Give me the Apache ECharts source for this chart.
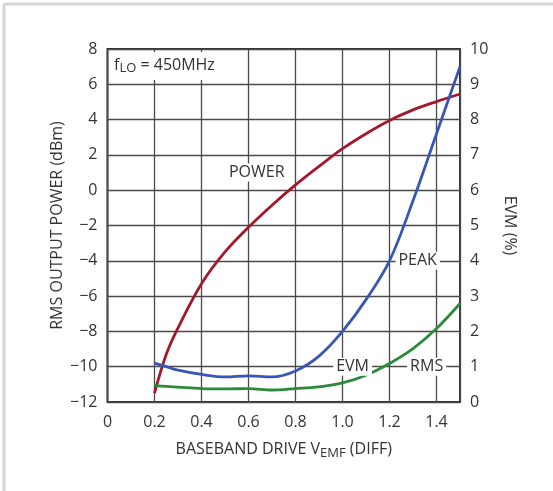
<!DOCTYPE html>
<html><head><meta charset="utf-8">
<script src="https://cdn.jsdelivr.net/npm/echarts@6/dist/echarts.min.js"></script>
<style>html,body{margin:0;padding:0;background:#fff}#c{width:553px;height:491px}</style>
</head><body><div id="c"></div>
<script>
// Data
const driveV = [0.2, 0.25, 0.3, 0.4, 0.5, 0.6, 0.7, 0.8, 0.9, 1.0, 1.1, 1.2, 1.3, 1.4, 1.5];
const powerDbm = [-11.5, -9.3, -7.8, -5.3, -3.5, -2.1, -0.85, 0.3, 1.35, 2.35, 3.2, 3.95, 4.55, 5.02, 5.45];
const peakEvm = [1.1, 1.0, 0.9, 0.78, 0.71, 0.74, 0.71, 0.88, 1.3, 2.0, 2.9, 4.0, 5.7, 7.6, 9.5];
const rmsEvm = [0.47, 0.44, 0.42, 0.38, 0.37, 0.38, 0.34, 0.38, 0.43, 0.54, 0.76, 1.09, 1.51, 2.08, 2.79];
const xTicks = [0, 0.2, 0.4, 0.6, 0.8, 1.0, 1.2, 1.4];
const leftTicks = [-12, -10, -8, -6, -4, -2, 0, 2, 4, 6, 8];
const rightTicks = [0, 1, 2, 3, 4, 5, 6, 7, 8, 9, 10];

const FONT = 'Open Sans';
const FS = 16;
const SUB = 13;
const TXT = '#333';
const pair = (xs, ys) => xs.map((x, i) => [x, ys[i]]);
const minus = v => String(v).replace('-', '\u2212');

const labelStyle = {
  show: true, position: 'inside', color: TXT, fontFamily: FONT, fontSize: FS,
  backgroundColor: '#fff', padding: [1, 3]
};
const mk = (name, coord) => ({ name, coord, symbolSize: 0, label: Object.assign({}, labelStyle, { formatter: name }) });

const chart = echarts.init(document.getElementById('c'), null, { renderer: 'canvas' });
chart.setOption({
  animation: false,
  backgroundColor: '#fff',
  grid: { left: 107.5, right: 93, top: 49, bottom: 89, show: true, borderColor: '#333', borderWidth: 2, backgroundColor: 'transparent' },
  graphic: [
    { type: 'line', shape: { x1: 4, y1: 4, x2: 553, y2: 4 }, style: { stroke: '#d6d6d6', lineWidth: 3 }, silent: true },
    { type: 'line', shape: { x1: 4, y1: 4, x2: 4, y2: 491 }, style: { stroke: '#d6d6d6', lineWidth: 3 }, silent: true }
  ],
  title: {
    text: '{f|f}{s|LO}{f| = 450MHz}',
    left: 109, top: 50,
    padding: [5, 5, 5, 5],
    backgroundColor: '#fff',
    textStyle: {
      fontWeight: 'normal',
      rich: {
        f: { fontFamily: FONT, fontSize: FS, fontWeight: 'normal', color: TXT },
        s: { fontFamily: FONT, fontSize: SUB, fontWeight: 'normal', color: TXT, verticalAlign: 'bottom', padding: [7, 0, 0, 0] }
      }
    }
  },
  xAxis: {
    type: 'value', min: 0, max: 1.5, interval: 0.2,
    name: 'BASEBAND DRIVE V{s|EMF} (DIFF)', nameLocation: 'middle', nameGap: 37,
    nameTextStyle: {
      fontFamily: FONT, fontSize: FS, color: TXT,
      rich: { s: { fontFamily: FONT, fontSize: SUB, color: TXT, verticalAlign: 'bottom', padding: [8, 0, 0, 0] } }
    },
    axisLine: { show: false }, axisTick: { show: false },
    axisLabel: {
      color: TXT, fontFamily: FONT, fontSize: FS, margin: 12,
      showMaxLabel: false,
      formatter: v => (xTicks.some(t => Math.abs(t - v) < 1e-9) ? (v === 0 ? '0' : v.toFixed(1)) : '')
    },
    splitLine: { show: true, lineStyle: { color: '#4a4a4a', width: 1.3 } }
  },
  yAxis: [
    {
      type: 'value', min: -12, max: 8, interval: 2, position: 'left',
      name: 'RMS OUTPUT POWER (dBm)', nameLocation: 'middle', nameGap: 42, nameRotate: 90,
      nameMoveOverlap: false,
      nameTextStyle: { fontFamily: FONT, fontSize: FS, color: TXT },
      axisLine: { show: false }, axisTick: { show: false },
      axisLabel: { color: TXT, fontFamily: FONT, fontSize: FS, margin: 10,
        formatter: v => (leftTicks.includes(v) ? minus(v) : '') },
      splitLine: { show: true, lineStyle: { color: '#4a4a4a', width: 1.3 } }
    },
    {
      type: 'value', min: 0, max: 10, interval: 1, position: 'right',
      name: 'EVM (%)', nameLocation: 'middle', nameGap: 42, nameRotate: -90,
      nameTextStyle: { fontFamily: FONT, fontSize: FS, color: TXT },
      axisLine: { show: false }, axisTick: { show: false },
      axisLabel: { color: TXT, fontFamily: FONT, fontSize: FS, margin: 10,
        formatter: v => (rightTicks.includes(v) ? String(v) : '') },
      splitLine: { show: false }
    }
  ],
  series: [
    {
      name: 'POWER', type: 'line', yAxisIndex: 0, smooth: 0.35, showSymbol: false,
      data: pair(driveV, powerDbm), lineStyle: { color: '#a3182b', width: 2.8 }, z: 3,
      markPoint: { symbol: 'circle', data: [mk('POWER', [0.635, 1.0])] }
    },
    {
      name: 'PEAK', type: 'line', yAxisIndex: 1, smooth: 0.35, showSymbol: false,
      data: pair(driveV, peakEvm), lineStyle: { color: '#3a56b5', width: 2.8 }, z: 3,
      markPoint: { symbol: 'circle', data: [mk('PEAK', [1.32, 4.0])] }
    },
    {
      name: 'RMS', type: 'line', yAxisIndex: 1, smooth: 0.35, showSymbol: false,
      data: pair(driveV, rmsEvm), lineStyle: { color: '#2b8a3c', width: 2.8 }, z: 3,
      markPoint: { symbol: 'circle', data: [mk('EVM', [1.043, 1.0]), mk('RMS', [1.358, 1.0])] }
    }
  ]
});
</script></body></html>
